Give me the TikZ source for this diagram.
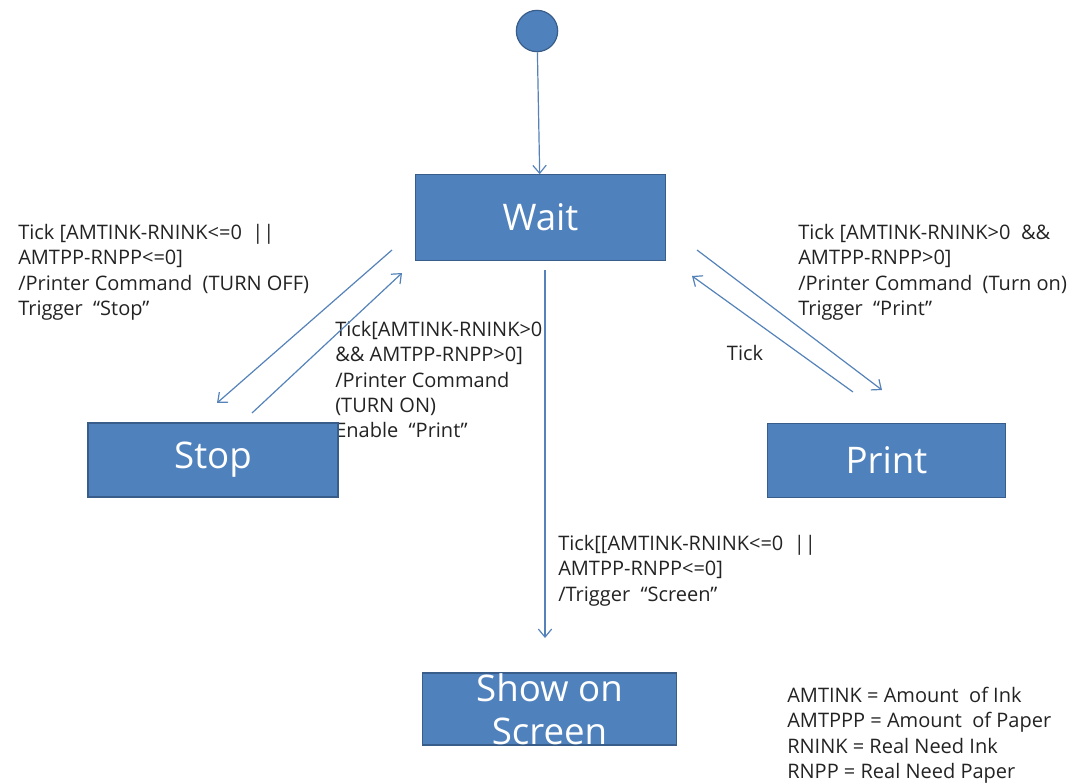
\documentclass[tikz,border=0pt]{standalone}
\usepackage{fontspec}
\setmainfont{Open Sans}
\usetikzlibrary{arrows.meta}
\definecolor{boxblue}{RGB}{79,129,189}
\definecolor{boxedge}{RGB}{56,93,138}
\definecolor{linkblue}{RGB}{84,130,185}
\definecolor{txtgray}{RGB}{35,35,35}
\tikzset{
  state/.style={draw=boxedge, fill=boxblue, line width=0.9pt, text=white, inner sep=0pt, align=center, font=\fontsize{27.5}{32}\selectfont},
  trans/.style={draw=linkblue, line width=0.9pt, -{Straight Barb[length=6pt,width=10pt]}},
  guard/.style={anchor=north west, inner sep=0pt, align=left, text=txtgray, font=\fontsize{15}{19}\selectfont},
}

\begin{document}
\begin{tikzpicture}[x=0.75pt,y=0.75pt,yscale=-1,xscale=1]
\useasboundingbox (0,0) rectangle (1080,784);

% Text Node
\node[guard] (lblstop) at (18,224) {Tick [AMTINK-RNINK<=0 \ ||\\AMTPP-RNPP<=0]\\/Printer Command \ (TURN OFF)\\Trigger \ ``Stop''};
% Text Node
\node[guard] (lblback) at (335,321) {Tick[AMTINK-RNINK>0\\\&\& AMTPP-RNPP>0]\\/Printer Command\\(TURN ON)\\Enable \ ``Print''};
% Text Node
\node[guard] (lblprint) at (798,224) {Tick [AMTINK-RNINK>0 \ \&\&\\AMTPP-RNPP>0]\\/Printer Command \ (Turn on)\\Trigger \ ``Print''};
% Text Node
\node[guard, anchor=center] (lbltick) at (745,353) {Tick};
% Text Node
\node[guard] (lblscreen) at (558,535) {Tick[[AMTINK-RNINK<=0 \ ||\\AMTPP-RNPP<=0]\\/Trigger \ ``Screen''};
% Text Node
\node[guard] (legend) at (787,687) {AMTINK = Amount \ of Ink\\AMTPPP = Amount \ of Paper\\RNINK = Real Need Ink\\RNPP = Real Need Paper};

% States
\node[circle, draw=boxedge, fill=boxblue, line width=0.9pt, minimum size=31pt, inner sep=0pt] (init) at (537,31) {};
\node[state, minimum width=188pt, minimum height=64pt] (wait) at (540.5,217.5) {Wait};
\node[state, minimum width=187.5pt, minimum height=55.5pt] (stop) at (213,460) {Stop};
\node[state, minimum width=179pt, minimum height=55pt] (print) at (886.5,460.5) {Print};
\node[state, minimum width=190pt, minimum height=54pt] (show) at (549.5,709) {Show on\\Screen};

% end points of the transitions
\coordinate (ws1) at (392,250);
\coordinate (ws2) at (217,403);
\coordinate (sw1) at (252,413);
\coordinate (sw2) at (402,273);
\coordinate (wp1) at (697,250);
\coordinate (wp2) at (882,390);
\coordinate (pw1) at (853,392);
\coordinate (pw2) at (692,276);
\coordinate (wd1) at (545,270);
\coordinate (wd2) at (545,638);

% Transitions
\draw[trans] (init) -- (wait);
\draw[trans] (ws1) -- (ws2);
\draw[trans] (sw1) -- (sw2);
\draw[trans] (wp1) -- (wp2);
\draw[trans] (pw1) -- (pw2);
\draw[trans] (wd1) -- (wd2);

\end{tikzpicture}
\end{document}
